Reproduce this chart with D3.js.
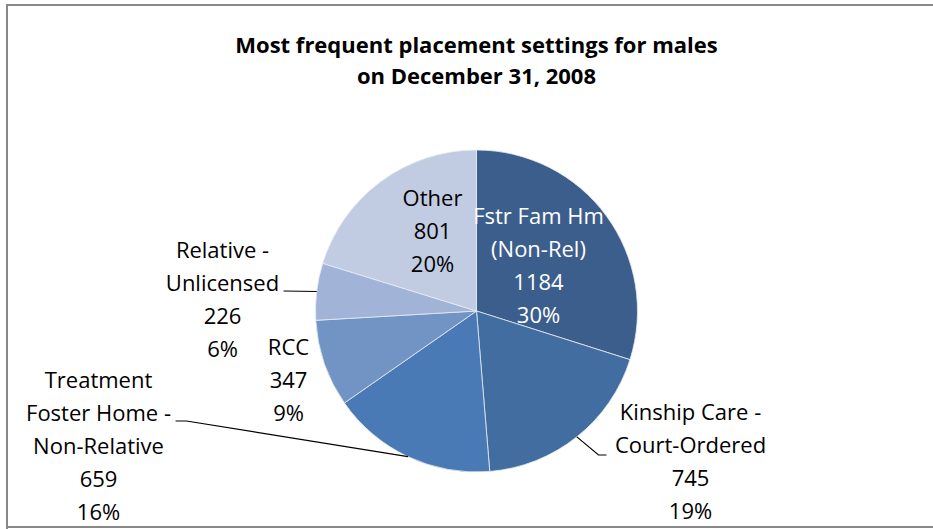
<!DOCTYPE html>
<html>
  <head>
    <meta charset="utf-8">
    <title>Most frequent placement settings for males</title>
    <script src="https://d3js.org/d3.v7.min.js"></script>
  </head>
  <body style="margin:0;background:#fff">
<style>
  text { font-family: "Open Sans", Lato, sans-serif; }
  .title { font-weight: bold; font-size: 22px; fill: #000; }
  .lbl { font-size: 22px; fill: #000; }
  .leader { fill: none; stroke: #000; stroke-width: 1.2; }
</style>
<script>

  // data
  var categories = ["Fstr Fam Hm (Non-Rel)", "Kinship Care - Court-Ordered",
                    "Treatment Foster Home - Non-Relative", "RCC",
                    "Relative - Unlicensed", "Other"];
  var values = [1184, 745, 659, 347, 226, 801];
  var pctLabels = ["30%", "19%", "16%", "9%", "6%", "20%"];
  var colors = ["#3b5e8c", "#426da0", "#4a7ab5", "#7294c4", "#a1b4d7", "#c1cce2"];

  // how each label wraps, like in the original
  var wraps = [["Fstr Fam Hm", "(Non-Rel)"],
               ["Kinship Care -", "Court-Ordered"],
               ["Treatment", "Foster Home -", "Non-Relative"],
               ["RCC"],
               ["Relative -", "Unlicensed"],
               ["Other"]];

  // label placement relative to pie centre (first line), and leader elbows
  var labelPos = [[62, -95], [214, 101], [-378, 69], [-188, 36], [-254, -61], [-44, -113]];
  var leaders = [null, [[122, 144], [130, 144]], [[-290, 110], [-301, 110]], null, [[-193, -20]], null];

  var w = 933, h = 529,
      cx = 476.5, cy = 311, r = 161,
      lineH = 33;

  var svg = d3.select("body").append("svg")
      .attr("width", w)
      .attr("height", h);

  // frame
  svg.append("path")
      .attr("d", "M7,534V5H940M7,527H940")
      .attr("fill", "none")
      .attr("stroke", "#898989")
      .attr("stroke-width", 2);

  // title
  svg.append("text").attr("class", "title")
      .attr("x", cx).attr("y", 53).attr("text-anchor", "middle")
      .text("Most frequent placement settings for males");
  svg.append("text").attr("class", "title")
      .attr("x", cx).attr("y", 84).attr("text-anchor", "middle")
      .text("on December 31, 2008");

  var pie = d3.pie().sort(null).value(function(d) { return d; });
  var arcs = pie(values);
  var arc = d3.arc().innerRadius(0).outerRadius(r);

  var g = svg.append("g").attr("transform", "translate(" + cx + "," + cy + ")");

  g.selectAll("path.slice")
      .data(arcs)
    .enter()
      .append("path")
      .attr("class", "slice")
      .attr("d", arc)
      .attr("fill", function(d, i) { return colors[i]; })
      .attr("stroke", "#e6ebf3")
      .attr("stroke-width", 0.8);

  // leader lines start on the rim at the slice's mid angle
  arcs.forEach(function(d, i) {
    if (!leaders[i]) return;
    var a = (d.startAngle + d.endAngle) / 2;
    var pts = [[r * Math.sin(a), -r * Math.cos(a)]].concat(leaders[i]);
    g.append("path").attr("class", "leader")
        .attr("d", d3.line()(pts));
  });

  // labels
  arcs.forEach(function(d, i) {
    var lines = wraps[i].concat([String(values[i]), pctLabels[i]]);
    var t = g.append("text")
        .attr("class", "lbl")
        .attr("text-anchor", "middle")
        .style("fill", i === 0 ? "#fff" : "#000");
    lines.forEach(function(s, k) {
      t.append("tspan")
          .attr("x", labelPos[i][0])
          .attr("y", labelPos[i][1] + k * lineH + 8)
          .text(s);
    });
  });

</script>
  </body>
</html>
